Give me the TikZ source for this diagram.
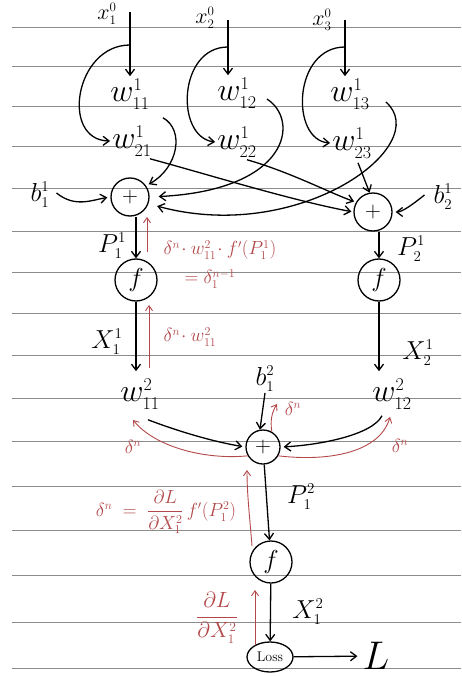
\documentclass[tikz,border=0pt]{standalone}
\usepackage{fix-cm}
\usepackage{amsmath}
\usetikzlibrary{arrows.meta,shapes.geometric,calc}
\DeclareMathSizes{32}{32}{18}{14}
\DeclareMathSizes{26}{26}{15}{12}
\DeclareMathSizes{22}{22}{13}{10}
\DeclareMathSizes{19}{19}{12}{9}
\definecolor{bpred}{RGB}{178,72,74}
\tikzset{
  rule/.style    ={draw=black!45, line width=1pt},
  opnode/.style  ={circle, draw=black, line width=1.3pt, minimum size=38pt, inner sep=0pt,
                   font=\fontsize{22}{22}\selectfont},
  fnode/.style   ={opnode, minimum size=42pt, font=\fontsize{26}{26}\selectfont},
  lossnode/.style={ellipse, draw=black, line width=1.3pt, minimum width=46pt, minimum height=30pt,
                   inner sep=0pt, font=\fontsize{14}{14}\selectfont},
  wlbl/.style    ={inner sep=2pt, font=\fontsize{32}{32}\selectfont},
  vlbl/.style    ={inner sep=1pt, font=\fontsize{26}{26}\selectfont},
  xlbl/.style    ={inner sep=1pt, font=\fontsize{22}{22}\selectfont},
  bplbl/.style   ={inner sep=1pt, text=bpred, font=\fontsize{19}{19}\selectfont},
  ar/.style      ={-{Straight Barb[length=6pt,width=9pt]}, draw=black, line width=1.3pt},
  bpar/.style    ={-{Straight Barb[length=5pt,width=7pt]}, draw=bpred, line width=0.9pt},
}

\begin{document}
\begin{tikzpicture}[x=1pt, y=-1pt]
\useasboundingbox (0,0) rectangle (461,676);
% ruled paper
\foreach \ry in {28,67,107,147,189,231,272,313,355,398,441,486,530,575,622,668}
  \draw[rule] (12,\ry) -- (461,\ry);

% layer 0 inputs
\node[xlbl] (x10) at (107,14) {$x^0_1$};
\node[xlbl] (x20) at (205,18) {$x^0_2$};
\node[xlbl] (x30) at (322,20) {$x^0_3$};
\coordinate (x1a) at (130,12); \coordinate (x1m) at (130,45);
\coordinate (x2a) at (228,20); \coordinate (x2m) at (228,47);
\coordinate (x3a) at (345,20); \coordinate (x3m) at (345,47);

% layer 1 weights
\node[wlbl] (w111) at (130,94)  {$w^1_{11}$};
\node[wlbl] (w121) at (237,93)  {$w^1_{12}$};
\node[wlbl] (w131) at (350,94)  {$w^1_{13}$};
\node[wlbl] (w211) at (132,141) {$w^1_{21}$};
\node[wlbl] (w221) at (237,142) {$w^1_{22}$};
\node[wlbl] (w231) at (352,143) {$w^1_{23}$};

% layer 1 sums, biases, activations
\node[opnode] (plus1) at (130,197) {$+$};
\node[opnode] (plus2) at (373,212) {$+$};
\node[vlbl] (b11) at (40,195)  {$b^1_1$};
\node[vlbl] (b21) at (443,197) {$b^1_2$};
\node[fnode] (f1) at (136,280) {$f$};
\node[fnode] (f2) at (379,280) {$f$};
\node[vlbl] (p11) at (112,246) {$P^1_1$};
\node[vlbl] (p21) at (411,249) {$P^1_2$};
\node[vlbl] (x11) at (107,342) {$X^1_1$};
\node[vlbl] (x21) at (418,353) {$X^1_2$};

% layer 2
\node[wlbl] (w112) at (140,394) {$w^2_{11}$};
\node[wlbl] (w122) at (392,394) {$w^2_{12}$};
\node[vlbl] (b12) at (265,379) {$b^2_1$};
\node[opnode, minimum size=34pt] (plus3) at (263,447) {$+$};
\node[fnode] (f3) at (271,562) {$f$};
\node[vlbl] (p12) at (301,497) {$P^2_1$};
\node[vlbl] (x12) at (308,612) {$X^2_1$};
\node[lossnode] (loss) at (270,657) {Loss};
\node[inner sep=1pt, font=\fontsize{40}{40}\selectfont] (Lout) at (376,656) {$L$};

% forward pass
\draw[ar] (x1a) -- (x1a |- w111.north);
\draw[ar] (x2a) -- (x2a |- w121.north);
\draw[ar] (x3a) -- (x3a |- w131.north);
\draw[ar] (x1m) .. controls (75,45) and (60,140) .. (w211.west);
\draw[ar] (x2m) .. controls (178,47) and (175,137) .. (w221.west);
\draw[ar] (x3m) .. controls (293,47) and (290,140) .. (w231.west);

\draw[ar, shorten >=3pt] ([shift={(11,6)}]w111.south east) .. controls (185,130) and (178,168) .. (plus1.35);
\draw[ar, shorten >=9pt] ([shift={(8,6)}]w121.east) .. controls (300,120) and (290,190) .. (plus1.east);
\draw[ar, shorten >=9pt] ([shift={(14,8)}]w131.east) .. controls (435,145) and (300,245) .. (plus1.-20);
\draw[ar, shorten >=2pt] ([shift={(-4,0)}]w211.south east) .. controls (210,175) and (290,200) .. (plus2.west);
\draw[ar, shorten >=2pt] ([shift={(10,0)}]w221.south) .. controls (290,172) and (330,193) .. (plus2.150);
\draw[ar] ([shift={(6,2)}]w231.south) -- (plus2.100);
\draw[ar, shorten >=3pt] ([shift={(6,-2)}]b11.east) .. controls (75,208) and (92,200) .. (plus1.west);
\draw[ar, shorten >=3pt] ([shift={(-8,-2)}]b21.west) .. controls (412,205) and (402,212) .. (plus2.east);

\draw[ar] (plus1.south -| f1.north) -- (f1.north);
\draw[ar] (plus2.south -| f2.north) -- (f2.north);
\draw[ar, shorten >=5pt] (f1.south) -- (f1.south |- w112.north);
\draw[ar, shorten >=5pt] (f2.south) -- (f2.south |- w122.north);

\draw[ar, shorten >=3pt] ([shift={(8,8)}]w112.south) .. controls (180,432) and (215,442) .. (plus3.west);
\draw[ar, shorten >=3pt] ([shift={(-10,4)}]w122.south) .. controls (372,435) and (320,445) .. (plus3.east);
\draw[ar] (b12.south) -- (plus3.100);
\draw[ar] (plus3) -- (f3);
\draw[ar] (f3) -- (loss);
\draw[ar, shorten >=4pt] (loss) -- (Lout);

% backward pass
\coordinate (r1a) at (147,252); \coordinate (r1b) at (147,217);
\coordinate (r2a) at (149,368); \coordinate (r2b) at (149,305);
\coordinate (r3a) at (252,546); \coordinate (r3b) at (247,470);
\coordinate (r4a) at (255,645); \coordinate (r4b) at (255,590);
\draw[bpar] (r1a) -- (r1b);
\draw[bpar] (r2a) -- (r2b);
\draw[bpar] (r3a) .. controls (250,520) and (247,495) .. (r3b);
\draw[bpar] (r4a) -- (r4b);
\draw[bpar] (plus3.60) .. controls (270,420) and (272,412) .. (277,404);
\draw[bpar] (plus3.-150) .. controls (205,460) and (155,447) .. (133,420);
\draw[bpar] (plus3.-30) .. controls (330,462) and (380,452) .. (390,417);

\node[bplbl] (d1) at (220,250) {$\delta^n\!\cdot w^2_{11}\!\cdot f'(P^1_1)$};
\node[bplbl] (d2) at (210,279) {$=\delta^{n-1}_1$};
\node[bplbl] (d3) at (190,337) {$\delta^n\!\cdot w^2_{11}$};
\node[bplbl] (d4) at (293,409) {$\delta^n$};
\node[bplbl] (d5) at (133,447) {$\delta^n$};
\node[bplbl] (d6) at (400,446) {$\delta^n$};
\node[bplbl] (d7) at (166,512) {$\delta^n\;=\;\dfrac{\partial L}{\partial X^2_1}\,f'(P^2_1)$};
\node[bplbl, font=\fontsize{22}{22}\selectfont] (d8) at (217,618) {$\dfrac{\partial L}{\partial X^2_1}$};
\end{tikzpicture}
\end{document}
